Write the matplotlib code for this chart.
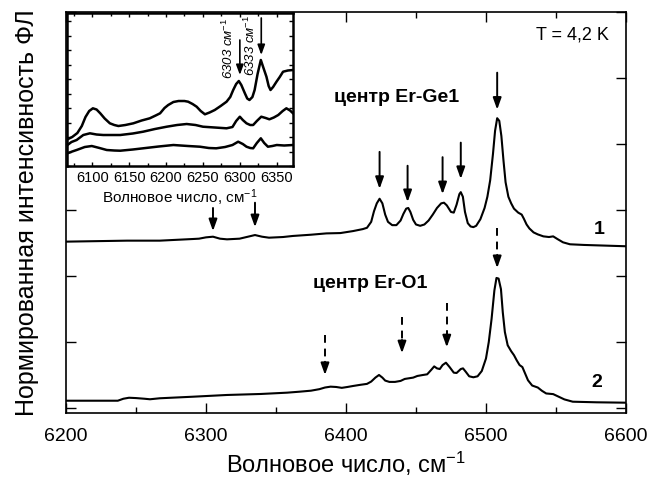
import matplotlib
matplotlib.use("Agg")
import matplotlib.pyplot as plt
from matplotlib.ticker import MultipleLocator

# ---------------- data ----------------
# main spectrum 1 (Er-Ge1)
w1 = [6200, 6243.6, 6267, 6290.7, 6295, 6300, 6305, 6310, 6315, 6324, 6330, 6335,
      6340, 6345, 6355, 6362, 6375, 6386, 6396, 6405, 6412, 6415, 6418, 6420, 6422,
      6424, 6426, 6428, 6430, 6433, 6436, 6439, 6441, 6443, 6444.5, 6446, 6448, 6450,
      6453, 6456, 6459, 6462, 6465, 6468, 6470, 6472, 6475, 6477, 6479, 6481, 6482,
      6483.5, 6485, 6487, 6489, 6491, 6493, 6496, 6499, 6501, 6503, 6505, 6506.5,
      6508, 6509.5, 6511, 6512.5, 6514, 6516, 6518, 6520, 6523, 6525.5, 6527, 6529,
      6531, 6534, 6537, 6541, 6545, 6548, 6551, 6555, 6560, 6570, 6600]
i1 = [2.52, 2.535, 2.535, 2.56, 2.565, 2.585, 2.595, 2.565, 2.555, 2.565, 2.595, 2.62,
      2.595, 2.58, 2.59, 2.606, 2.625, 2.645, 2.65, 2.68, 2.71, 2.73, 2.82, 2.98, 3.10,
      3.17, 3.10, 2.93, 2.82, 2.77, 2.77, 2.84, 2.94, 3.02, 3.03, 2.97, 2.85, 2.78,
      2.76, 2.78, 2.84, 2.93, 3.03, 3.10, 3.11, 3.07, 2.97, 2.96, 3.08, 3.24, 3.27,
      3.20, 2.97, 2.80, 2.75, 2.74, 2.76, 2.86, 3.03, 3.20, 3.45, 3.85, 4.20,
      4.39, 4.35, 4.12, 3.75, 3.42, 3.20, 3.10, 3.02, 2.96, 2.93, 2.87, 2.78,
      2.72, 2.66, 2.63, 2.60, 2.59, 2.60, 2.56, 2.51, 2.48, 2.47, 2.45]

# main spectrum 2 (Er-O1)
w2 = [6200, 6237, 6241, 6245, 6250, 6256, 6260, 6267, 6291, 6315, 6339, 6358, 6367,
      6375, 6381, 6385, 6389, 6393, 6397, 6401, 6405, 6410, 6415, 6418, 6421, 6423.6,
      6426, 6428, 6431, 6435, 6439, 6442, 6445, 6448, 6451, 6455, 6458, 6461, 6463,
      6465, 6467, 6469, 6471.4, 6474, 6477, 6479, 6482, 6483.6, 6485.5, 6488, 6491,
      6494, 6497, 6500, 6502, 6504, 6506, 6507.5, 6509, 6510.7, 6512, 6513.5, 6515.5,
      6518, 6520, 6522, 6524, 6526, 6528, 6530, 6533, 6537, 6540, 6543, 6548, 6552,
      6556, 6562, 6579, 6600]
i2 = [0.11, 0.11, 0.14, 0.155, 0.15, 0.14, 0.132, 0.147, 0.171, 0.197, 0.212, 0.232,
      0.247, 0.262, 0.285, 0.31, 0.323, 0.318, 0.305, 0.318, 0.333, 0.35, 0.365, 0.40,
      0.46, 0.50, 0.46, 0.415, 0.395, 0.395, 0.41, 0.44, 0.45, 0.46, 0.485, 0.50, 0.51,
      0.58, 0.63, 0.60, 0.59, 0.65, 0.686, 0.62, 0.535, 0.53, 0.59, 0.60, 0.55, 0.48,
      0.465, 0.48, 0.56, 0.75, 1.0, 1.35, 1.78, 1.97, 1.96, 1.80, 1.45, 1.15, 0.95,
      0.86, 0.80, 0.72, 0.65, 0.62, 0.52, 0.42, 0.34, 0.31, 0.26, 0.22, 0.21, 0.17,
      0.13, 0.095, 0.086, 0.08]

# inset spectra
wa = [6066.6, 6073, 6080, 6086, 6091, 6096, 6101, 6106, 6111, 6117, 6124, 6130,
      6135.5, 6145, 6155.8, 6167, 6178, 6186, 6192, 6198, 6203, 6210, 6217, 6225,
      6230, 6236, 6241.5, 6247, 6252.7, 6259, 6266, 6274, 6282, 6287, 6291, 6295,
      6298.6, 6302, 6306.8, 6310, 6313, 6317, 6320, 6324, 6328.4, 6332, 6336, 6339,
      6341.5, 6345, 6349.6, 6354, 6358.5, 6365, 6372]
ia = [2.67, 2.9, 3.3, 4.0, 4.9, 5.5, 5.77, 5.65, 5.27, 4.75, 4.27, 4.1,
      4.0, 4.1, 4.27, 4.55, 4.77, 5.05, 5.27, 5.8, 6.1, 6.4, 6.5, 6.5,
      6.43, 6.2, 5.93, 5.5, 5.17, 5.35, 5.6, 6.0, 6.43, 6.9, 7.6, 8.2,
      8.5, 8.1, 7.27, 6.75, 6.6, 6.9, 7.6, 9.2, 10.6, 9.8, 8.93, 8.0,
      7.6, 7.9, 8.43, 8.9, 9.43, 9.55, 9.6]
wb = [6066.6, 6072, 6079, 6088, 6097, 6106, 6115, 6128, 6138, 6155, 6169, 6185,
      6201, 6215, 6228, 6240, 6250, 6266, 6282, 6290, 6295, 6300, 6304, 6309, 6314,
      6318, 6323, 6329, 6335, 6340, 6346, 6352, 6358, 6363, 6368, 6372]
ib = [2.1, 2.4, 2.6, 3.1, 3.27, 3.15, 3.1, 3.1, 3.1, 3.25, 3.43, 3.7,
      3.93, 4.1, 4.2, 4.1, 3.93, 3.85, 3.77, 3.9, 4.5, 4.93, 4.6, 4.27, 4.1,
      4.1, 4.5, 4.93, 4.8, 4.67, 4.85, 5.1, 5.5, 5.77, 5.55, 5.27]
wc = [6066.6, 6073, 6079, 6090, 6099.5, 6110, 6119.8, 6130, 6138, 6155, 6169, 6190,
      6210, 6230, 6246, 6258, 6268, 6280, 6290, 6297.7, 6304, 6309, 6314, 6318, 6323,
      6328.4, 6333, 6338, 6344, 6350, 6360, 6372]
ic = [1.27, 1.45, 1.6, 1.9, 2.0, 1.8, 1.6, 1.55, 1.53, 1.65, 1.77, 1.95,
      2.1, 2.0, 1.93, 1.8, 1.77, 1.9, 2.1, 2.43, 2.2, 1.93, 1.8, 1.77, 2.3,
      2.77, 2.3, 1.93, 2.0, 2.1, 2.05, 2.1]

# arrows: (position, start, tip)
solid_arrows = [(6305, 3.03, 2.68), (6335, 3.11, 2.74), (6424, 3.88, 3.32),
                (6444, 3.67, 3.12), (6469, 3.80, 3.24), (6482, 4.02, 3.47),
                (6508, 5.08, 4.52)]
dashed_arrows = [(6385, 1.11, 0.50), (6440, 1.38, 0.83), (6472, 1.59, 0.92),
                 (6508, 2.73, 2.12)]
inset_arrows = [(6300, 12.6, 9.1), (6329, 14.8, 11.1)]
inset_labels = [(6284, 11.8, "6303 см$^{-1}$"), (6314, 12.1, "6333 см$^{-1}$")]

# ---------------- figure ----------------
plt.rcParams['font.family'] = ['Liberation Sans', 'DejaVu Sans']
plt.rcParams['mathtext.fontset'] = 'custom'
plt.rcParams['mathtext.rm'] = 'Liberation Sans'
plt.rcParams['mathtext.it'] = 'Liberation Sans:italic'

fig = plt.figure(figsize=(6.47, 4.78), dpi=100)
ax = fig.add_axes([0.102, 0.136, 0.8655, 0.839])

ax.plot(w1, i1, color='k', lw=1.5)
ax.plot(w2, i2, color='k', lw=1.5)
ax.set_xlim(6200, 6600)
ax.set_ylim(-0.076, 6.0)
ax.set_yticks(range(0, 7))
ax.yaxis.set_ticklabels([])
ax.xaxis.set_major_locator(MultipleLocator(100))
ax.xaxis.set_minor_locator(MultipleLocator(50))
ax.tick_params(which='both', direction='in', top=True, right=True, labelsize=14)
ax.tick_params(which='major', length=7, width=1)
ax.tick_params(which='minor', length=4, width=1)
ax.tick_params(axis='x', pad=11)
for s in ax.spines.values():
    s.set_linewidth(1.2)
ax.set_xlabel("Волновое число, см$^{-1}$", fontsize=17, labelpad=3)
ax.set_ylabel("Нормированная интенсивность ФЛ", fontsize=18, labelpad=16)

ahead = dict(arrowstyle='-|>,head_length=0.7,head_width=0.25', color='k', lw=1.4,
             shrinkA=0, shrinkB=0)
for x, y0, y1 in solid_arrows:
    ax.annotate('', xy=(x, y1), xytext=(x, y0), arrowprops=ahead)
for x, y0, y1 in dashed_arrows:
    ax.plot([x, x], [y0, y1 + 0.15], color='k', lw=1.4, dashes=(4, 3))
    ax.annotate('', xy=(x, y1), xytext=(x, y1 + 0.2), arrowprops=ahead)

ax.text(6562, 5.65, "T = 4,2 K", ha='center', va='center', fontsize=13)
ax.text(6436, 4.71, "центр Er-Ge1", fontsize=14, fontweight='bold', ha='center',
        va='center')
ax.text(6417, 1.89, "центр Er-O1", fontsize=14, fontweight='bold', ha='center',
        va='center')
ax.text(6581, 2.70, "1", fontsize=14, fontweight='bold', ha='center', va='center')
ax.text(6579, 0.39, "2", fontsize=14, fontweight='bold', ha='center', va='center')

# ---------------- inset ----------------
ins = fig.add_axes([0.1036, 0.6527, 0.3493, 0.3201])
ins.plot(wa, ia, color='k', lw=1.8)
ins.plot(wb, ib, color='k', lw=1.8)
ins.plot(wc, ic, color='k', lw=1.8)
ins.set_xlim(6066, 6372)
ins.set_ylim(0, 15.3)
ins.xaxis.set_major_locator(MultipleLocator(50))
ins.xaxis.set_minor_locator(MultipleLocator(25))
ins.yaxis.set_major_locator(MultipleLocator(1.45))
ins.yaxis.set_ticklabels([])
ins.tick_params(which='both', direction='in', top=True, right=True, labelsize=10.5)
ins.tick_params(which='major', length=3, width=1)
ins.tick_params(which='minor', length=2, width=1)
for s in ins.spines.values():
    s.set_linewidth(1.8)
ins.set_xlabel("Волновое число, см$^{-1}$", fontsize=11, labelpad=2)
ihead = dict(arrowstyle='-|>,head_length=0.6,head_width=0.22', color='k', lw=1.2,
             shrinkA=0, shrinkB=0)
for x, y0, y1 in inset_arrows:
    ins.annotate('', xy=(x, y1), xytext=(x, y0), arrowprops=ihead)
for x, y, t in inset_labels:
    ins.text(x, y, t, rotation=90, ha='center', va='center', fontsize=9.5,
             fontstyle='italic')

fig.savefig("out.png", dpi=100)
